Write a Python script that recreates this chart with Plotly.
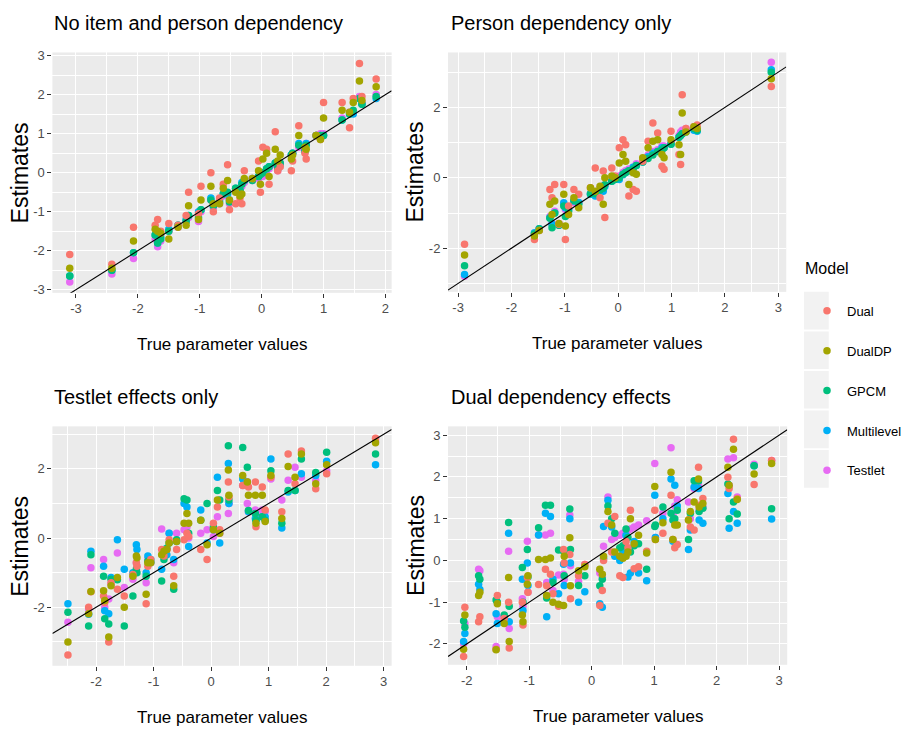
import plotly.graph_objects as go

W, H = 907, 740
FONT = "Liberation Sans, Arial, sans-serif"

models = ["Dual", "DualDP", "GPCM", "Multilevel", "Testlet"]
colors = ["#F8766D", "#A3A500", "#00BF7D", "#00B0F6", "#E76BF3"]

panel_titles = ["No item and person dependency", "Person dependency only",
                "Testlet effects only", "Dual dependency effects"]
x_title = "True parameter values"
y_title = "Estimates"
legend_title = "Model"

# ---------------- Panel 1 ----------------
p1_x = [-3.10, -2.42, -2.07, -1.72, -1.68, -1.63, -1.50, -1.35, -1.22, -1.18, -1.02, -0.98, -0.82, -0.78, -0.68,
        -0.62, -0.55, -0.52, -0.42, -0.35, -0.32, -0.28, -0.15, -0.05, -0.02, 0.02, 0.08, 0.12, 0.22, 0.26,
        0.30, 0.48, 0.50, 0.60, 0.70, 0.72, 0.88, 0.95, 1.00, 1.30, 1.42, 1.48, 1.58, 1.62, 1.85]
p1_dual = [-2.10, -2.35, -1.40, -1.35, -1.20, -1.50, -1.30, -1.35, -1.10, -0.50, -1.05, -0.35, 0.00, -1.00, -0.65,
           -0.30, 0.20, -0.95, -0.80, -0.65, -0.80, 0.05, -0.15, 0.30, -0.50, 0.65, 0.60, -0.30, 1.05, 0.05,
           0.15, 0.05, 0.30, 1.20, 0.50, 0.35, 0.95, 0.85, 1.80, 1.80, 1.15, 1.90, 2.80, 1.95, 2.40]
p1_dualdp = [-2.45, -2.45, -1.75, -1.45, -1.50, -1.55, -1.70, -1.40, -1.35, -0.85, -1.20, -0.70, -0.35, -0.80, -0.80,
             -0.40, -0.20, -0.70, -0.50, -0.60, -0.55, -0.15, -0.15, 0.05, -0.30, 0.35, 0.50, -0.10, 0.60, 0.30,
             0.45, 0.35, 0.45, 0.95, 0.65, 0.60, 0.95, 0.85, 1.40, 1.60, 1.55, 1.80, 2.35, 1.85, 2.20]
p1_gpcm = [-2.65, -2.50, -2.05, -1.60, -1.80, -1.70, -1.50, -1.35, -1.25, -1.10, -1.15, -0.95, -0.70, -0.85, -0.75,
           -0.55, -0.50, -0.75, -0.40, -0.45, -0.30, -0.20, -0.20, -0.10, -0.05, 0.00, 0.10, 0.15, 0.25, 0.10,
           0.25, 0.45, 0.50, 0.70, 0.55, 0.70, 0.95, 0.95, 0.95, 1.35, 1.50, 1.60, 1.90, 1.75, 1.95]
p1_multi = [-2.65, -2.50, -2.05, -1.60, -1.80, -1.65, -1.45, -1.35, -1.20, -1.10, -1.00, -0.95, -0.65, -0.85, -0.70,
            -0.55, -0.55, -0.70, -0.40, -0.45, -0.25, -0.20, -0.15, -0.10, 0.00, 0.00, 0.10, 0.15, 0.25, 0.10,
            0.20, 0.45, 0.50, 0.75, 0.55, 0.75, 0.95, 0.95, 0.95, 1.35, 1.50, 1.50, 1.90, 1.75, 1.90]
p1_testlet = [-2.80, -2.60, -2.20, -1.70, -1.90, -1.75, -1.50, -1.40, -1.25, -1.15, -1.25, -1.00, -0.70, -0.90, -0.80,
              -0.60, -0.55, -0.80, -0.45, -0.50, -0.35, -0.25, -0.20, -0.15, -0.05, -0.10, 0.05, 0.10, 0.20, 0.05,
              0.25, 0.45, 0.50, 0.65, 0.60, 0.75, 0.95, 1.00, 1.00, 1.40, 1.55, 1.55, 1.95, 1.80, 2.00]

# ---------------- Panel 2 ----------------
p2_x = [-2.88, -1.57, -1.48, -1.28, -1.24, -1.19, -1.11, -1.02, -0.99, -0.93, -0.83, -0.74, -0.52, -0.43, -0.34,
        -0.28, -0.25, -0.12, -0.06, 0.02, 0.09, 0.14, 0.20, 0.28, 0.34, 0.46, 0.56, 0.65, 0.74, 0.82,
        0.86, 0.99, 1.14, 1.17, 1.20, 1.27, 1.42, 1.48, 2.87]
p2_dual = [-1.89, -1.75, -1.50, -0.33, -0.57, -0.19, -1.32, -0.19, -1.75, -0.80, -0.33, -0.47, -0.28, 0.28, -0.57,
           0.19, -1.13, 0.28, 0.05, 0.85, 1.08, 0.94, -0.52, -0.33, -0.38, 0.47, 1.04, 1.56, 1.27, 0.33,
           0.24, 1.32, 0.66, 0.38, 2.36, 1.40, 1.45, 1.50, 2.59]
p2_dualdp = [-2.19, -1.65, -1.50, -0.75, -1.04, -0.66, -1.30, -0.47, -1.37, -1.04, -0.57, -0.85, -0.28, -0.38, -0.24,
             -0.75, 0.00, 0.05, 0.00, 0.42, 0.66, 0.47, -0.19, 0.14, 0.10, 0.57, 0.85, 1.04, 1.08, 0.66,
             0.57, 1.08, 0.94, 0.66, 1.84, 1.30, 1.45, 1.40, 2.81]
p2_gpcm = [-2.50, -1.60, -1.45, -1.15, -1.42, -1.00, -1.35, -0.80, -1.10, -0.95, -0.65, -0.75, -0.45, -0.45, -0.35,
           -0.30, -0.20, -0.10, -0.05, 0.00, 0.10, 0.15, 0.20, 0.25, 0.35, 0.45, 0.55, 0.65, 0.75, 0.80,
           0.85, 0.95, 1.15, 1.20, 1.25, 1.30, 1.40, 1.35, 3.00]
p2_multi = [-2.75, -1.56, -1.45, -1.13, -1.32, -1.00, -1.35, -0.71, -0.85, -0.90, -0.66, -0.70, -0.47, -0.52, -0.35,
            -0.38, -0.25, -0.10, -0.05, -0.05, 0.09, 0.15, 0.20, 0.30, 0.35, 0.45, 0.60, 0.70, 0.75, 0.85,
            0.85, 0.95, 1.15, 1.20, 1.25, 1.35, 1.35, 1.32, 3.07]
p2_testlet = [-2.80, -1.58, -1.45, -1.10, -1.30, -0.95, -1.30, -0.75, -0.90, -0.90, -0.70, -0.70, -0.45, -0.45, -0.30,
              -0.30, -0.20, -0.05, 0.00, 0.05, 0.15, 0.20, 0.25, 0.30, 0.40, 0.50, 0.65, 0.75, 0.80, 0.90,
              0.90, 1.00, 1.20, 1.30, 1.35, 1.40, 1.45, 1.40, 3.28]

# ---------------- Panel 3 ----------------
p3_x = [-2.49, -2.13, -2.09, -1.87, -1.85, -1.78, -1.74, -1.63, -1.51, -1.36, -1.30, -1.29, -1.13, -1.10, -1.05,
        -0.86, -0.82, -0.77, -0.73, -0.65, -0.60, -0.47, -0.42, -0.39, -0.18, -0.07, 0.04, 0.11, 0.15, 0.30,
        0.31, 0.55, 0.63, 0.65, 0.77, 0.78, 0.89, 0.94, 1.04, 1.23, 1.34, 1.46, 1.57, 1.82, 2.01, 2.86]
p3_dual = [-3.38, -2.00, -1.55, -1.67, -1.86, -3.00, -1.29, -1.48, -1.67, -1.05, -0.71, -0.81, -1.90, -0.81, -0.62,
           -0.33, -0.52, -0.33, -0.05, -1.10, -0.33, -0.05, 0.14, 0.05, -0.33, -0.62, 0.43, 0.90, 0.24, 1.62,
           1.19, 1.52, 1.62, 1.48, 1.62, 0.33, 1.48, 0.81, 1.76, 0.76, 2.43, 1.57, 2.52, 1.43, 1.86, 2.89]
p3_dualdp = [-3.00, -2.19, -1.54, -1.52, -1.80, -2.86, -1.38, -1.14, -2.00, -1.10, -0.52, -0.57, -1.62, -0.71, -0.71,
             -0.48, -0.38, -0.33, -0.14, -1.38, -0.10, 0.43, 0.71, 0.43, 0.52, -0.19, 0.24, 1.10, 0.14, 1.97,
             1.24, 1.81, 1.62, 1.24, 1.24, 0.43, 1.24, 0.48, 1.81, 0.57, 2.07, 1.76, 2.43, 1.57, 2.12, 2.76]
p3_gpcm = [-2.14, -2.54, -0.48, -1.10, -2.33, -2.48, -1.19, -1.20, -2.54, -1.67, -0.90, -1.00, -1.10, -0.67, -0.70,
           -1.24, -0.62, -0.29, -0.14, -1.48, -0.05, 1.14, 1.10, 0.14, 0.52, 1.00, 0.33, 1.38, 1.10, 2.67,
           1.10, 2.62, 2.05, 0.80, 0.71, 0.52, 0.62, 0.52, 1.95, 0.43, 1.38, 1.38, 2.29, 1.90, 2.48, 2.43]
p3_multi = [-1.90, -2.20, -0.38, -0.81, -2.10, -2.19, -1.14, -0.05, -0.90, -1.00, -0.19, -0.33, -1.00, -0.52, -0.62,
            -0.90, -0.33, -0.48, 0.14, -0.62, -0.10, 1.00, 0.90, -0.24, 0.81, -0.14, 0.24, 1.76, -0.14, 2.16,
            1.00, 1.71, 1.62, 0.76, 0.57, 0.52, 0.62, 0.62, 2.29, 0.29, 1.33, 1.38, 1.86, 1.81, 2.22, 2.12]
p3_testlet = [-2.43, -2.05, -0.86, -0.62, -2.00, -1.76, -1.33, -0.43, -1.43, -1.19, -0.71, -0.80, -1.29, -0.62, -0.71,
              0.26, -0.50, -0.33, 0.14, -0.71, 0.14, 0.24, 0.33, 0.00, 0.14, 0.24, 0.05, 0.62, 0.14, 0.71,
              1.00, 1.52, 1.00, 0.76, 0.81, 0.71, 0.81, 0.76, 1.71, 1.10, 1.67, 2.05, 1.76, 1.67, 1.95, 2.81]

# ---------------- Panel 4 ----------------
p4_x = [-2.05, -2.03, -1.81, -1.79, -1.53, -1.51, -1.40, -1.33, -1.32, -1.11, -1.10, -1.03, -1.02, -0.85, -0.74,
        -0.72, -0.66, -0.62, -0.53, -0.45, -0.44, -0.35, -0.34, -0.21, -0.11, 0.13, 0.17, 0.19, 0.26, 0.32,
        0.37, 0.45, 0.50, 0.55, 0.58, 0.62, 0.68, 0.75, 0.88, 1.01, 1.02, 1.14, 1.27, 1.30, 1.33,
        1.37, 1.55, 1.58, 1.64, 1.71, 1.72, 1.78, 2.18, 2.20, 2.27, 2.33, 2.60, 2.88]
p4_dual = [-2.30, -1.12, -1.47, -1.35, -2.13, -0.84, -1.39, -1.00, -2.10, -1.00, -1.55, -0.41, -0.76, -0.58, -0.21,
           -0.61, -0.33, -0.80, -1.10, 0.26, -0.06, 0.14, -0.92, -0.37, -0.10, -1.08, -0.72, 0.00, 0.89, 0.20,
           1.05, -0.37, -0.41, 0.45, 0.30, 1.20, -0.20, -0.15, 0.22, 1.20, 0.50, 0.65, 1.56, 0.50, 0.30,
           0.38, 0.97, 0.80, 0.73, 2.23, 1.32, 1.48, 1.99, 1.72, 2.90, 1.48, 1.82, 2.39]
p4_dualdp = [-2.13, -1.31, -0.84, -0.76, -2.14, -1.04, -1.51, -0.41, -1.94, -1.31, -1.47, -0.57, -0.37, 0.02, 0.02,
             -0.84, 0.06, -1.00, -1.05, -1.08, 0.10, 0.54, -0.61, -0.25, -0.15, -0.21, -0.33, 0.10, 1.17, 0.85,
             0.20, 0.10, 0.05, 0.10, 0.20, 1.00, 0.40, 0.60, 0.18, 1.77, 0.50, 0.90, 2.11, 0.50, 0.85,
             0.85, 0.97, 1.17, 1.40, 1.95, 1.28, 1.36, 2.23, 1.80, 2.66, 1.46, 2.07, 2.32]
p4_gpcm = [-1.45, -1.60, -0.37, -0.45, -0.95, -1.00, -1.31, 0.91, -1.10, -0.17, -1.00, 0.26, -0.40, 0.78, 1.32,
           -0.90, 1.32, -0.53, 0.25, 0.22, -0.37, 1.23, 0.26, -0.60, -0.37, -0.61, -0.45, 0.05, 1.30, 1.00,
           0.65, 0.30, 0.35, 0.75, 0.55, 0.20, 0.35, 0.40, -0.21, 0.81, 0.85, 1.28, 1.13, 0.97, 1.00,
           1.20, 0.50, 1.13, 1.91, 1.90, 1.17, 1.25, 1.83, 1.00, 1.40, 1.11, 2.27, 1.24]
p4_multi = [-1.94, -1.75, -0.57, -0.70, -1.28, -1.51, -1.47, 0.65, -1.47, -0.45, -1.20, -0.06, -0.60, 0.61, 1.13,
            -1.35, 1.05, -0.45, -0.80, -0.09, -0.60, 1.00, -0.06, -1.00, -0.75, -1.04, -1.12, 0.81, 1.44, 0.80,
            0.10, 0.00, 0.20, 0.60, -0.40, -0.30, 0.45, -0.30, -0.49, 1.56, 0.55, 1.00, 1.95, 0.46, 1.80,
            1.30, 0.26, 0.73, 1.76, 1.72, 0.97, 0.89, 1.60, 0.77, 1.17, 0.89, 2.27, 0.99]
p4_testlet = [-2.00, -1.51, -0.21, -0.25, -2.06, -1.35, -1.40, 0.22, -1.63, -0.92, -1.10, 0.46, -0.76, 0.61, 0.61,
              -0.53, 0.65, -0.72, -0.35, -0.33, -0.45, 1.09, -0.13, -0.50, -0.10, -0.30, -0.40, 0.34, 1.52, 0.50,
              0.55, 0.60, 0.65, 0.70, 0.72, 0.75, 0.80, 0.85, 0.95, 2.32, 0.55, 1.13, 2.70, 1.10, 1.30,
              1.45, 1.40, 1.00, 1.72, 1.80, 1.20, 1.28, 2.43, 1.80, 2.46, 1.52, 2.30, 2.39]

# tick values
p1_xticks = [-3, -2, -1, 0, 1, 2]
p1_yticks = [-3, -2, -1, 0, 1, 2, 3]
p2_xticks = [-3, -2, -1, 0, 1, 2, 3]
p2_yticks = [-2, 0, 2]
p3_xticks = [-2, -1, 0, 1, 2, 3]
p3_yticks = [-2, 0, 2]
p4_xticks = [-2, -1, 0, 1, 2, 3]
p4_yticks = [-2, -1, 0, 1, 2, 3]

data = [
    (p1_x, [p1_dual, p1_dualdp, p1_gpcm, p1_multi, p1_testlet]),
    (p2_x, [p2_dual, p2_dualdp, p2_gpcm, p2_multi, p2_testlet]),
    (p3_x, [p3_dual, p3_dualdp, p3_gpcm, p3_multi, p3_testlet]),
    (p4_x, [p4_dual, p4_dualdp, p4_gpcm, p4_multi, p4_testlet]),
]
ticks = [(p1_xticks, p1_yticks), (p2_xticks, p2_yticks), (p3_xticks, p3_yticks), (p4_xticks, p4_yticks)]

# layout geometry (pixels) and axis ranges
geom = [
    dict(px=(53, 396), py=(49, 292), xr=(-3.38, 2.10), yr=(-3.08, 3.08), ymin=dict(dtick=0.5)),
    dict(px=(453, 795), py=(49, 291), xr=(-3.19, 3.15), yr=(-3.24, 3.56), ymin=dict(tick0=1, dtick=2)),
    dict(px=(53, 396), py=(427, 669), xr=(-2.76, 3.14), yr=(-3.69, 3.23), ymin=dict(tick0=1, dtick=2)),
    dict(px=(453, 796), py=(427, 668), xr=(-2.30, 3.13), yr=(-2.50, 3.21), ymin=dict(dtick=0.5)),
]

def fx(p):
    return p / W

def fy(p):
    return 1 - p / H

def lab(v):
    return str(v) if v >= 0 else "-" + str(-v)

fig = go.Figure()
draw_order = [4, 3, 2, 0, 1]
for i, ((xs, ys), g) in enumerate(zip(data, geom)):
    sfx = "" if i == 0 else str(i + 1)
    for m in draw_order:
        fig.add_trace(go.Scatter(
            x=xs, y=ys[m], mode="markers", name=models[m],
            marker=dict(color=colors[m], size=7.5, line=dict(width=0)),
            xaxis="x" + sfx, yaxis="y" + sfx,
            legendgroup=models[m], legendrank=m + 1, showlegend=(i == 0),
        ))
    fig.add_trace(go.Scatter(
        x=list(g["xr"]), y=list(g["xr"]), mode="lines",
        line=dict(color="black", width=1.1), showlegend=False,
        xaxis="x" + sfx, yaxis="y" + sfx, hoverinfo="skip",
    ))

axis_common = dict(
    showgrid=True, gridcolor="white", gridwidth=1.4, zeroline=False, showline=False,
    ticks="outside", ticklen=4, tickwidth=1, tickcolor="#333333",
    tickfont=dict(family=FONT, size=13, color="#4D4D4D"), tickmode="array",
)
lay = {}
for i, g in enumerate(geom):
    sfx = "" if i == 0 else str(i + 1)
    xt, yt = ticks[i]
    lay["xaxis" + sfx] = dict(
        axis_common, domain=[fx(g["px"][0]), fx(g["px"][1])], range=list(g["xr"]),
        anchor="y" + sfx, tickvals=xt, ticktext=[lab(v) for v in xt],
        minor=dict(dtick=0.5, showgrid=True, gridcolor="white", gridwidth=0.7, ticks=""),
    )
    lay["yaxis" + sfx] = dict(
        axis_common, domain=[fy(g["py"][1]), fy(g["py"][0])], range=list(g["yr"]),
        anchor="x" + sfx, tickvals=yt, ticktext=[lab(v) for v in yt],
        minor=dict(g["ymin"], showgrid=True, gridcolor="white", gridwidth=0.7, ticks=""),
    )

annotations = []
title_pos = [(53, 19), (454, 19), (53, 397), (454, 397)]
for i, g in enumerate(geom):
    tx, ty = title_pos[i]
    annotations.append(dict(text=panel_titles[i], x=fx(tx), y=fy(ty), xref="paper", yref="paper",
                            xanchor="left", yanchor="middle", showarrow=False,
                            font=dict(family=FONT, size=20, color="black")))
    cx = (g["px"][0] + g["px"][1]) / 2
    annotations.append(dict(text=x_title, x=fx(cx), y=fy(g["py"][1] + 52), xref="paper", yref="paper",
                            xanchor="center", yanchor="middle", showarrow=False,
                            font=dict(family=FONT, size=17, color="black")))
    cy = (g["py"][0] + g["py"][1]) / 2
    annotations.append(dict(text=y_title, x=fx(g["px"][0] - 33), y=fy(cy), xref="paper", yref="paper",
                            xanchor="center", yanchor="middle", showarrow=False, textangle=-90,
                            font=dict(family=FONT, size=23, color="black")))

annotations.append(dict(text=legend_title, x=fx(812), y=fy(267), xref="paper", yref="paper",
                        xanchor="left", yanchor="middle", showarrow=False,
                        font=dict(family=FONT, size=16, color="black")))

# grey key backgrounds behind legend symbols
key_centres = [310, 350, 390, 430, 470]
shapes = [dict(type="rect", xref="paper", yref="paper", x0=fx(813), x1=fx(838),
               y0=fy(c - 19), y1=fy(c + 19), fillcolor="#F2F2F2", line=dict(width=0), layer="below")
          for c in key_centres]

fig.update_layout(
    width=W, height=H, margin=dict(l=0, r=0, t=0, b=0),
    paper_bgcolor="white", plot_bgcolor="#EBEBEB",
    annotations=annotations, shapes=shapes,
    legend=dict(x=fx(816), y=fy(295), xanchor="left", yanchor="top",
                font=dict(family=FONT, size=13, color="black"),
                tracegroupgap=20, bgcolor="rgba(0,0,0,0)", itemwidth=30),
    **lay,
)

fig.write_html("out.html")
